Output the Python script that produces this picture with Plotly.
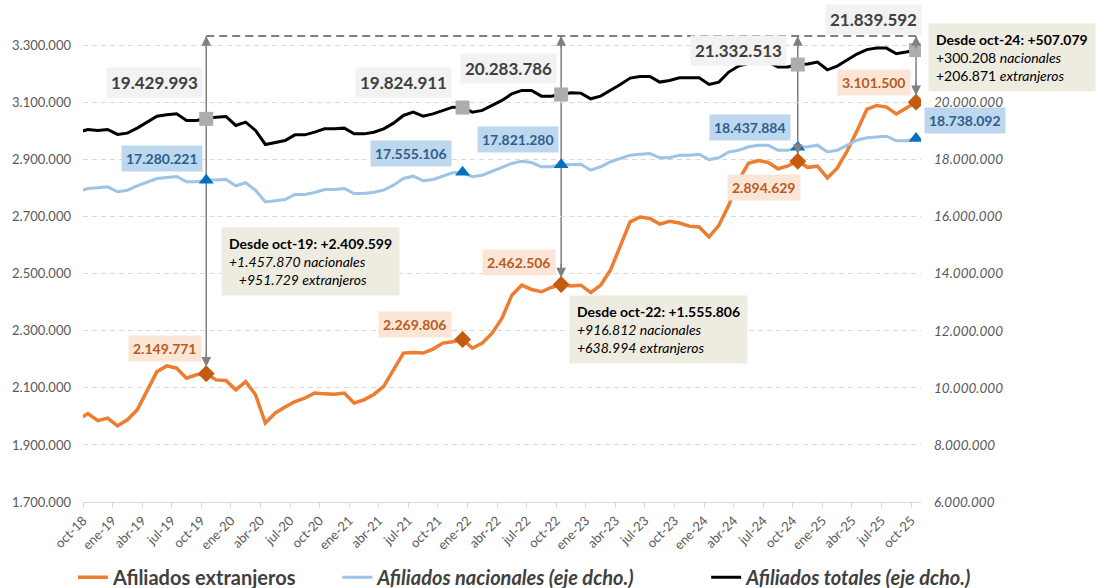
import plotly.graph_objects as go

# ---------------- DATA ----------------
MES = ["ene", "feb", "mar", "abr", "may", "jun", "jul", "ago", "sep", "oct", "nov", "dic"]
# monthly categories from sep-18 to oct-25
months = [f"{MES[(8 + k) % 12]}-{18 + (8 + k) // 12:02d}" for k in range(86)]

tick_labels = ["oct-18", "ene-19", "abr-19", "jul-19", "oct-19", "ene-20", "abr-20", "jul-20",
               "oct-20", "ene-21", "abr-21", "jul-21", "oct-21", "ene-22", "abr-22", "jul-22",
               "oct-22", "ene-23", "abr-23", "jul-23", "oct-23", "ene-24", "abr-24", "jul-24",
               "oct-24", "ene-25", "abr-25", "jul-25", "oct-25"]

extranjeros = [
    1990000, 2010000, 1985000, 1994000,
    1967000, 1988000, 2023000, 2087000, 2157000, 2177000, 2169000, 2134000, 2146000, 2149771, 2128000, 2126000,
    2093000, 2122000, 2076000, 1977000, 2012000, 2033000, 2052000, 2064000, 2082000, 2079000, 2078000, 2082000,
    2047000, 2058000, 2077000, 2105000, 2163000, 2222000, 2224000, 2222000, 2236000, 2257000, 2262000, 2269806,
    2239000, 2257000, 2292000, 2344000, 2425000, 2460000, 2445000, 2437000, 2452000, 2462506, 2457000, 2460000,
    2434000, 2460000, 2513000, 2594000, 2682000, 2699000, 2694000, 2674000, 2684000, 2678000, 2667000, 2664000,
    2629000, 2670000, 2740000, 2828000, 2887000, 2897000, 2890000, 2868000, 2878000, 2894629, 2873000, 2877000,
    2836000, 2870000, 2930000, 3000000, 3076000, 3090000, 3084000, 3060000, 3082000, 3101500,
]

nacionales = [
    16880000, 16989000, 17013000, 17048000,
    16873000, 16929000, 17084000, 17224000, 17340000, 17375000, 17410000, 17224000, 17224000, 17280221, 17280000, 17305000,
    17084000, 17190000, 16929000, 16520000, 16556000, 16600000, 16780000, 16780000, 16850000, 16954000, 16954000, 16990000,
    16813000, 16813000, 16860000, 16930000, 17105000, 17340000, 17420000, 17259000, 17305000, 17434000, 17540000, 17555106,
    17400000, 17455000, 17596000, 17750000, 17866000, 17947000, 17900000, 17750000, 17750000, 17821280, 17841000, 17841000,
    17630000, 17750000, 17926000, 18040000, 18157000, 18190000, 18217000, 18066000, 18066000, 18157000, 18157000, 18190000,
    18003000, 18066000, 18270000, 18330000, 18450000, 18507000, 18507000, 18330000, 18330000, 18437884, 18450000, 18507000,
    18270000, 18330000, 18507000, 18680000, 18770000, 18800000, 18820000, 18660000, 18660000, 18738092,
]

totales = [
    18960000, 19058000, 19023000, 19058000,
    18883000, 18928000, 19104000, 19314000, 19525000, 19570000, 19605000, 19374000, 19374000, 19429993, 19490000, 19514000,
    19198000, 19314000, 19023000, 18532000, 18612000, 18672000, 18869000, 18869000, 18963000, 19079000, 19079000, 19104000,
    18904000, 18904000, 18960000, 19079000, 19279000, 19549000, 19665000, 19525000, 19605000, 19725000, 19840000, 19824911,
    19665000, 19725000, 19900000, 20076000, 20307000, 20426000, 20426000, 20226000, 20226000, 20283786, 20342000, 20332000,
    20132000, 20226000, 20426000, 20637000, 20858000, 20918000, 20918000, 20718000, 20777000, 20869000, 20869000, 20869000,
    20637000, 20718000, 21070000, 21280000, 21380000, 21420000, 21420000, 21245000, 21245000, 21332513, 21350000, 21420000,
    21150000, 21280000, 21490000, 21700000, 21858000, 21910000, 21910000, 21710000, 21770000, 21839592,
]

series_names = ["Afiliados extranjeros", "Afiliados nacionales (eje dcho.)", "Afiliados totales (eje dcho.)"]

highlight_months = ["oct-19", "dic-21", "oct-22", "oct-24", "oct-25"]
arrow_months = ["oct-19", "oct-22", "oct-24", "oct-25"]

box_texts = [
    "<b>Desde oct-19: +2.409.599</b><br><i>+1.457.870 nacionales</i><br><i>\u00a0\u00a0\u00a0+951.729 extranjeros</i>",
    "<b>Desde oct-22: +1.555.806</b><br><i>+916.812 nacionales</i><br><i>+638.994 extranjeros</i>",
    "<b>Desde oct-24: +507.079</b><br>+300.208 <i>nacionales</i><br>+206.871 <i>extranjeros</i>",
]

# ---------------- STYLE ----------------
FONT = "Lato, 'Open Sans', sans-serif"
C_EXT, C_EXT_M, C_EXT_BG, C_EXT_TX = "#ED7D31", "#C55A11", "#FBE5D6", "#B85B1E"
C_NAC, C_NAC_M, C_NAC_BG, C_NAC_TX = "#9DC3E6", "#0070C0", "#BDD7EE", "#2E5E8E"
C_TOT, C_TOT_M, C_TOT_BG, C_TOT_TX = "#000000", "#ADADAD", "#F2F2F2", "#404040"
GRID = "#D9D9D9"
ARROW = "#808080"
NB = "\u00a0"

xpos = [k - 0.5 for k in range(len(months))]
idx = {m: i for i, m in enumerate(months)}
TOP = 3333000  # level of dashed reference line (left axis)


def fmt(v):
    return f"{v:,}".replace(",", ".")


fig = go.Figure()

fig.add_trace(go.Scatter(x=xpos, y=extranjeros, mode="lines",
                         name=f"<b>{series_names[0]}</b>" + NB * 7,
                         line=dict(color=C_EXT, width=3.5), yaxis="y", hoverinfo="skip"))
fig.add_trace(go.Scatter(x=xpos, y=nacionales, mode="lines",
                         name=f"<b><i>{series_names[1]}</i></b>" + NB * 13,
                         line=dict(color=C_NAC, width=3), yaxis="y2", hoverinfo="skip"))
fig.add_trace(go.Scatter(x=xpos, y=totales, mode="lines",
                         name=f"<b><i>{series_names[2]}</i></b>",
                         line=dict(color=C_TOT, width=3), yaxis="y2", hoverinfo="skip"))

hi = [idx[m] for m in highlight_months]
fig.add_trace(go.Scatter(x=[xpos[i] for i in hi], y=[extranjeros[i] for i in hi], mode="markers",
                         marker=dict(symbol="diamond", size=13, color=C_EXT_M), yaxis="y",
                         showlegend=False, hoverinfo="skip"))
fig.add_trace(go.Scatter(x=[xpos[i] for i in hi], y=[nacionales[i] for i in hi], mode="markers",
                         marker=dict(symbol="triangle-up", size=13, color=C_NAC_M), yaxis="y2",
                         showlegend=False, hoverinfo="skip"))
fig.add_trace(go.Scatter(x=[xpos[i] for i in hi], y=[totales[i] for i in hi], mode="markers",
                         marker=dict(symbol="square", size=14, color=C_TOT_M), yaxis="y2",
                         showlegend=False, hoverinfo="skip"))

# dashed reference line and vertical arrows
fig.add_shape(type="line", xref="x", yref="y", x0=xpos[idx[arrow_months[0]]], x1=xpos[idx[arrow_months[-1]]],
              y0=TOP, y1=TOP, line=dict(color="#7F7F7F", width=2, dash="8px,5px"), layer="above")
for m in arrow_months:
    i = idx[m]
    fig.add_shape(type="line", xref="x", yref="y", x0=xpos[i], x1=xpos[i], y0=TOP, y1=extranjeros[i],
                  line=dict(color=ARROW, width=1.5), layer="below")
    fig.add_annotation(x=xpos[i], y=TOP, xref="x", yref="y", ax=0, ay=14, text="", showarrow=True,
                       arrowhead=2, arrowsize=1.3, arrowwidth=1.5, arrowcolor=ARROW, standoff=0)
    fig.add_annotation(x=xpos[i], y=extranjeros[i], xref="x", yref="y", ax=0, ay=-22, text="",
                       showarrow=True, arrowhead=2, arrowsize=1.3, arrowwidth=1.5, arrowcolor=ARROW,
                       standoff=7)

# value labels: (xanchor, xshift, yshift) per highlighted month
tot_pos = [("right", -3, 36), ("right", -11, 25), ("right", -4, 26), ("right", -11, 14), ("right", 6, 31)]
nac_pos = [("right", -3, 22), ("right", -11, 19), ("right", -2, 25), ("right", -7, 20), ("left", 8, 18)]
ext_pos = [("right", -4, 25), ("right", -11, 15), ("right", -5, 22), ("right", 3, -26), ("right", -5, 20)]


def add_label(i, val, yref, pos, bg, color, size):
    xa, xs, ys = pos
    fig.add_annotation(x=xpos[i], y=val, xref="x", yref=yref, text=f"<b>{fmt(val)}</b>", showarrow=False,
                       xanchor=xa, yanchor="middle", xshift=xs, yshift=ys, bgcolor=bg, borderpad=4,
                       font=dict(family=FONT, size=size, color=color))


for k, i in enumerate(hi):
    add_label(i, totales[i], "y2", tot_pos[k], C_TOT_BG, C_TOT_TX, 17)
    add_label(i, nacionales[i], "y2", nac_pos[k], C_NAC_BG, C_NAC_TX, 14)
    add_label(i, extranjeros[i], "y", ext_pos[k], C_EXT_BG, C_EXT_TX, 14)

# explanatory boxes
box_pos = [(0.1644, 0.5674), (0.5798, 0.4270), (1.0084, 0.9884)]
for (bx, by), t in zip(box_pos, box_texts):
    fig.add_annotation(x=bx, y=by, xref="paper", yref="paper", xanchor="left", yanchor="top", text=t,
                       showarrow=False, align="left", bgcolor="#EEECE1", borderpad=7,
                       font=dict(family=FONT, size=14, color="#000000"))

tickvals = [xpos[idx[t]] - 0.5 for t in tick_labels]

fig.update_layout(
    width=1105, height=588,
    margin=dict(l=83, r=184, t=17, b=86, autoexpand=False),
    paper_bgcolor="white", plot_bgcolor="white",
    separators=",.",
    font=dict(family=FONT, color="#595959"),
    showlegend=True,
    legend=dict(orientation="h", x=-0.012, xanchor="left", y=-0.155, yanchor="middle",
                font=dict(family=FONT, size=20, color="#404040"), itemwidth=30,
                bgcolor="rgba(0,0,0,0)"),
    xaxis=dict(range=[0, len(months) - 1], tickvals=tickvals, ticktext=tick_labels, tickangle=-45,
               showgrid=False, zeroline=False, showline=True, linecolor=GRID, linewidth=1,
               ticks="outside", ticklen=5, tickcolor=GRID,
               tickfont=dict(family=FONT, size=13, color="#595959")),
    yaxis=dict(range=[1700000, 3400000], tick0=1700000, dtick=200000, tickformat=",d",
               showgrid=True, gridcolor=GRID, griddash="5px,4px", gridwidth=1, zeroline=False,
               showline=False, ticklabelstandoff=11,
               tickfont=dict(family=FONT, size=13, color="#595959")),
    yaxis2=dict(range=[6000000, 23000000], overlaying="y", side="right",
                tickvals=[6000000, 8000000, 10000000, 12000000, 14000000, 16000000, 18000000, 20000000],
                ticktext=[f"<i>{fmt(v)}</i>" for v in [6000000, 8000000, 10000000, 12000000, 14000000,
                                                       16000000, 18000000, 20000000]],
                showgrid=False, zeroline=False, showline=False, ticklabelstandoff=12,
                tickfont=dict(family=FONT, size=13.5, color="#595959")),
)

fig.write_html("out.html")
